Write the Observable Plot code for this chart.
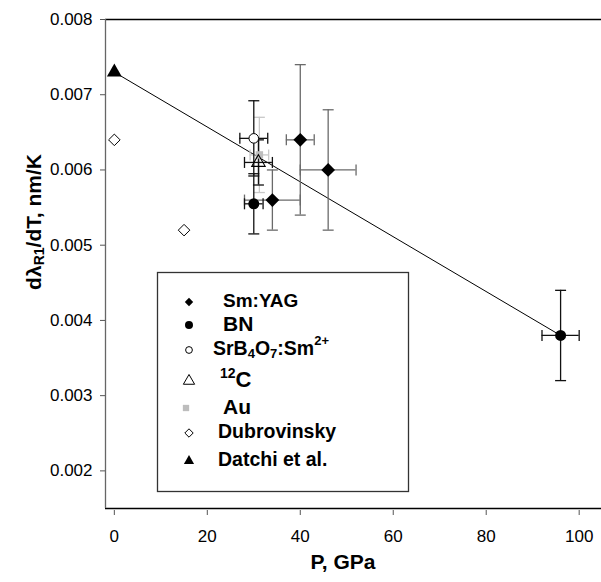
<!DOCTYPE html>
<html>
<head>
<meta charset="utf-8">
<script src="https://cdn.jsdelivr.net/npm/d3@7"></script>
<script src="https://cdn.jsdelivr.net/npm/@observablehq/plot@0.6"></script>
<style>
  html, body { margin: 0; padding: 0; background: #fff; }
  svg { font-family: "Liberation Sans", Arial, sans-serif; }
</style>
</head>
<body>
<div id="chart"></div>
<script>
// ---- data ----
const smyagP = [40, 46, 34];
const smyagV = [0.0064, 0.0060, 0.0056];
const smyagPErr = [3, 6, 6];
const smyagVErr = [0.001, 0.0008, 0.0004];

const bnP = [30, 96];
const bnV = [0.00555, 0.0038];
const bnPErr = [2, 4];
const bnVErr = [0.0004, 0.0006];

const srbP = [30];
const srbV = [0.00642];
const srbPErr = [3];
const srbVErr = [0.0005];

const c12P = [31];
const c12V = [0.0061];
const c12PErr = [3];
const c12VErr = [0.0003];

const auP = [31.2];
const auV = [0.0062];
const auPErr = [2];
const auVErr = [0.0005];

const dubP = [0, 15];
const dubV = [0.0064, 0.0052];

const datP = [0];
const datV = [0.0073];

const fitP = [0, 96];
const fitV = [0.0073, 0.0038];

const xTicks = [0, 20, 40, 60, 80, 100];
const yTicks = [0.002, 0.003, 0.004, 0.005, 0.006, 0.007, 0.008];
const xDomain = [-1.9, 104.8];
const yDomain = [0.0015, 0.008];

const legendLabels = ["Sm:YAG", "BN", "SrB4O7:Sm2+", "12C", "Au", "Dubrovinsky", "Datchi et al."];

// ---- build rows ----
function rows(P, V, PE, VE) {
  return P.map((p, i) => ({p, v: V[i], pe: PE ? PE[i] : 0, ve: VE ? VE[i] : 0}));
}
const smyag = rows(smyagP, smyagV, smyagPErr, smyagVErr);
const bn = rows(bnP, bnV, bnPErr, bnVErr);
const srb = rows(srbP, srbV, srbPErr, srbVErr);
const c12 = rows(c12P, c12V, c12PErr, c12VErr);
const au = rows(auP, auV, auPErr, auVErr);
const dub = rows(dubP, dubV);
const dat = rows(datP, datV);
const fit = rows(fitP, fitV);

// cap symbols
const hCap = { draw(ctx, size) { const w = Math.sqrt(size / Math.PI); ctx.moveTo(-w, 0); ctx.lineTo(w, 0); } };
const vCap = { draw(ctx, size) { const w = Math.sqrt(size / Math.PI); ctx.moveTo(0, -w); ctx.lineTo(0, w); } };

function errorBars(data, color) {
  const sw = 1.3;
  return [
    Plot.ruleX(data, {x: "p", y1: d => d.v - d.ve, y2: d => d.v + d.ve, stroke: color, strokeWidth: sw}),
    Plot.ruleY(data, {y: "v", x1: d => d.p - d.pe, x2: d => d.p + d.pe, stroke: color, strokeWidth: sw}),
    Plot.dot(data, {x: "p", y: d => d.v - d.ve, symbol: hCap, r: 5.5, stroke: color, strokeWidth: sw, fill: "none"}),
    Plot.dot(data, {x: "p", y: d => d.v + d.ve, symbol: hCap, r: 5.5, stroke: color, strokeWidth: sw, fill: "none"}),
    Plot.dot(data, {x: d => d.p - d.pe, y: "v", symbol: vCap, r: 5.5, stroke: color, strokeWidth: sw, fill: "none"}),
    Plot.dot(data, {x: d => d.p + d.pe, y: "v", symbol: vCap, r: 5.5, stroke: color, strokeWidth: sw, fill: "none"})
  ];
}

const chart = Plot.plot({
  width: 601,
  height: 582,
  marginLeft: 105,
  marginRight: 0,
  marginTop: 19,
  marginBottom: 74,
  x: {domain: xDomain},
  y: {domain: yDomain},
  style: {fontFamily: '"Liberation Sans", Arial, sans-serif', color: "#000"},
  marks: [
    // frame lines
    Plot.ruleY([yDomain[1]], {stroke: "#000", strokeWidth: 1.3}),
    Plot.ruleY([yDomain[0]], {stroke: "#000", strokeWidth: 1.3}),
    Plot.ruleX([xDomain[0]], {stroke: "#666", strokeWidth: 1.3}),
    Plot.axisY({ticks: yTicks, tickSize: 5, tickPadding: 8, tickFormat: d => d.toFixed(3), label: null, fontSize: 17, stroke: "#555"}),
    Plot.axisX({ticks: xTicks, tickSize: 5, tickPadding: 14, label: null, fontSize: 17, dy: 2, stroke: "#555"}),
    // fit line
    Plot.line(fit, {x: "p", y: "v", stroke: "#000", strokeWidth: 1}),
    // error bars
    ...errorBars(au, "#c8c8c8"),
    ...errorBars(smyag, "#6a6a6a"),
    ...errorBars(srb, "#111"),
    ...errorBars(c12, "#111"),
    ...errorBars(bn, "#111"),
    // points
    Plot.dot(au, {x: "p", y: "v", symbol: "square", r: 4.2, fill: "#bdbdbd", stroke: "none"}),
    Plot.dot(smyag, {x: "p", y: "v", symbol: "diamond2", r: 6.2, fill: "#000", stroke: "none"}),
    Plot.dot(bn, {x: "p", y: "v", symbol: "circle", r: 5.5, fill: "#000", stroke: "none"}),
    Plot.dot(srb, {x: "p", y: "v", symbol: "circle", r: 4.8, fill: "#fff", stroke: "#000", strokeWidth: 1}),
    Plot.dot(c12, {x: "p", y: "v", symbol: "triangle", r: 5, fill: "none", stroke: "#000", strokeWidth: 1.1}),
    Plot.dot(dub, {x: "p", y: "v", symbol: "diamond2", r: 5.2, fill: "#fff", stroke: "#000", strokeWidth: 1}),
    Plot.dot(dat, {x: "p", y: "v", symbol: "triangle", r: 5.5, fill: "#000", stroke: "none"})
  ]
});

document.getElementById("chart").appendChild(chart);

// ---- titles and legend ----
const svg = d3.select(chart);
const ff = '"Liberation Sans", Arial, sans-serif';

// x title
svg.append("text")
  .attr("x", 343).attr("y", 563)
  .attr("text-anchor", "middle").attr("dominant-baseline", "middle")
  .attr("font-family", ff).attr("font-weight", "bold").attr("font-size", 21)
  .text("P, GPa");

// y title
const yt = svg.append("text")
  .attr("transform", "translate(35,222) rotate(-90)")
  .attr("text-anchor", "middle").attr("dominant-baseline", "middle")
  .attr("font-family", ff).attr("font-weight", "bold").attr("font-size", 21);
yt.append("tspan").text("d\u03BB");
yt.append("tspan").attr("font-size", 14).attr("dy", 5).text("R1");
yt.append("tspan").attr("dy", -5).text("/dT, nm/K");

// legend box
const lg = svg.append("g").attr("font-family", ff).attr("font-weight", "bold").attr("text-anchor", "start");
lg.append("rect").attr("x", 157.5).attr("y", 272.5).attr("width", 251).attr("height", 219)
  .attr("fill", "#fff").attr("stroke", "#333").attr("stroke-width", 1.3);

const legendY = [302, 325, 350, 381, 408, 433, 461];
const sym = (type, size) => d3.symbol().type(type).size(size)();

// markers
const markers = [
  {t: d3.symbolDiamond2, s: 45, fill: "#000", stroke: "none"},
  {t: d3.symbolCircle, s: 50, fill: "#000", stroke: "none"},
  {t: d3.symbolCircle, s: 36, fill: "#fff", stroke: "#000"},
  {t: d3.symbolTriangle, s: 55, fill: "#fff", stroke: "#000"},
  {t: d3.symbolSquare, s: 40, fill: "#bdbdbd", stroke: "none"},
  {t: d3.symbolDiamond2, s: 45, fill: "#fff", stroke: "#000"},
  {t: d3.symbolTriangle, s: 45, fill: "#000", stroke: "none"}
];
markers.forEach((m, i) => {
  lg.append("path").attr("d", sym(m.t, m.s))
    .attr("transform", `translate(${i === 4 ? 186 : 189},${legendY[i]})`)
    .attr("fill", m.fill).attr("stroke", m.stroke).attr("stroke-width", 1);
});

function addText(x, y, size) {
  return lg.append("text").attr("x", x).attr("y", y).attr("dominant-baseline", "middle").attr("font-size", size);
}
addText(223, legendY[0], 19).text(legendLabels[0]);
addText(223, legendY[1], 21).text(legendLabels[1]);
{
  const t = addText(213, legendY[2], 19.5);
  t.append("tspan").text("SrB");
  t.append("tspan").attr("font-size", 13).attr("dy", 5).text("4");
  t.append("tspan").attr("dy", -5).text("O");
  t.append("tspan").attr("font-size", 13).attr("dy", 5).text("7");
  t.append("tspan").attr("dy", -5).text(":Sm");
  t.append("tspan").attr("font-size", 13).attr("dy", -8).text("2+");
}
{
  const t = addText(220, legendY[3], 22);
  t.append("tspan").attr("font-size", 14).attr("dy", -7).text("12");
  t.append("tspan").attr("dy", 7).text("C");
}
addText(223, legendY[4], 21).text(legendLabels[4]);
addText(218, legendY[5], 19.5).text(legendLabels[5]);
addText(218, legendY[6], 19.5).text(legendLabels[6]);
</script>
</body>
</html>
